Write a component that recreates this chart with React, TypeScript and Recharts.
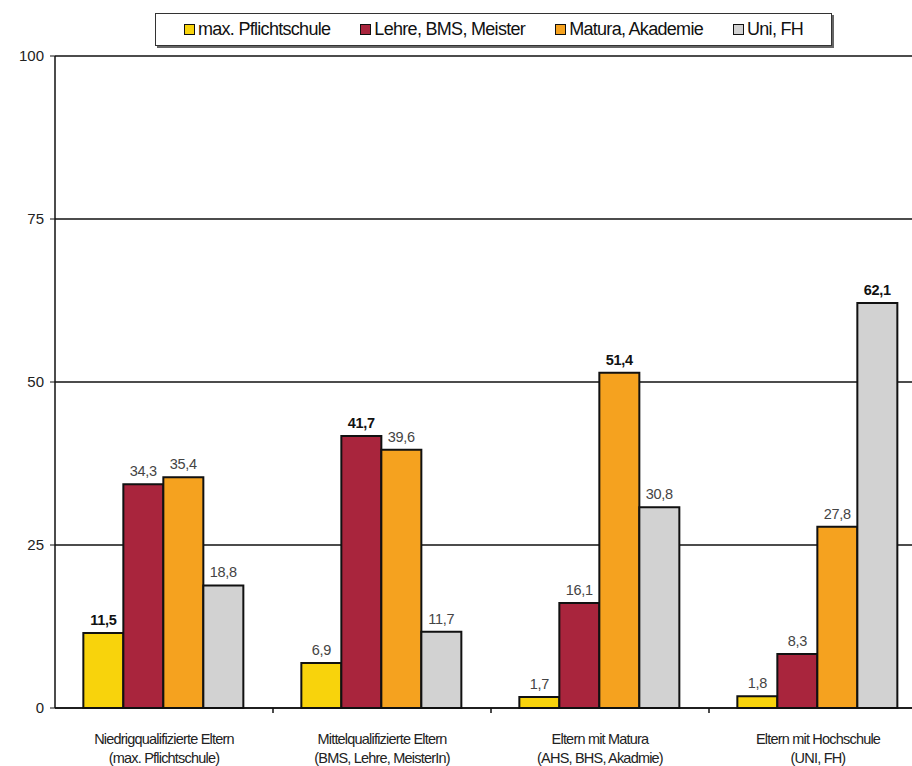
import React from 'react';
import {
  BarChart,
  Bar,
  XAxis,
  YAxis,
  CartesianGrid,
  LabelList,
} from 'recharts';

const groups = [
  ['Niedrigqualifizierte Eltern', '(max. Pflichtschule)'],
  ['Mittelqualifizierte Eltern', '(BMS, Lehre, MeisterIn)'],
  ['Eltern mit Matura', '(AHS, BHS, Akadmie)'],
  ['Eltern mit Hochschule', '(UNI, FH)'],
];

const pflichtschule = [11.5, 6.9, 1.7, 1.8];
const lehre = [34.3, 41.7, 16.1, 8.3];
const matura = [35.4, 39.6, 51.4, 27.8];
const uni = [18.8, 11.7, 30.8, 62.1];

const yTicks = [0, 25, 50, 75, 100];

const series = [
  { key: 'pflicht', name: 'max. Pflichtschule', color: '#F8D30C', values: pflichtschule },
  { key: 'lehre', name: 'Lehre, BMS, Meister', color: '#A9253D', values: lehre },
  { key: 'matura', name: 'Matura, Akademie', color: '#F5A21F', values: matura },
  { key: 'uni', name: 'Uni, FH', color: '#D2D2D2', values: uni },
];

const data = groups.map((g, i) => {
  const row: Record<string, any> = { idx: i };
  series.forEach((s) => {
    row[s.key] = s.values[i];
  });
  return row;
});

const font = '"Liberation Sans", Arial, sans-serif';
const CHART_W = 940;
const PLOT_LEFT = 55;
const PLOT_RIGHT = 13;
const BAND = (CHART_W - PLOT_LEFT - PLOT_RIGHT) / groups.length;

function ValueLabel(seriesIndex: number) {
  return (props: any) => {
    const { x, y, width, value, index } = props;
    const bold = index === seriesIndex;
    return (
      <text
        x={x + width / 2}
        y={y - 8}
        textAnchor='middle'
        fontSize={14.5}
        fontFamily={font}
        fontWeight={bold ? 'bold' : 'normal'}
        fill={bold ? '#111' : '#444'}
        letterSpacing={-0.3}
      >
        {value.toFixed(1).replace('.', ',')}
      </text>
    );
  };
}

// two-line group label plus a tick mark on the left band boundary
function GroupTick({ x, y, payload }: any) {
  const lines = groups[payload.value];
  const top = y - 8;
  return (
    <g>
      {payload.value > 0 && (
        <line x1={x - BAND / 2} x2={x - BAND / 2} y1={top} y2={top + 5} stroke='#111' strokeWidth={1.5} />
      )}
      {lines.map((line, i) => (
        <text
          key={i}
          x={x}
          y={y + 28 + i * 19}
          textAnchor='middle'
          fontSize={14.5}
          fontFamily={font}
          fill='#222'
          letterSpacing={-0.8}
        >
          {line}
        </text>
      ))}
    </g>
  );
}

// legend box drawn above the plot, outside the chart layout
function LegendBox() {
  return (
    <div
      style={{
        position: 'absolute',
        left: 155,
        top: 13,
        width: 675,
        height: 31,
        border: '1px solid #333',
        boxShadow: '2px 2px 0 #666',
        background: '#fff',
        display: 'flex',
        alignItems: 'center',
        justifyContent: 'center',
        gap: 30,
        fontFamily: font,
        fontSize: 18,
        letterSpacing: -0.7,
        color: '#111',
      }}
    >
      {series.map((s) => (
        <span key={s.key} style={{ display: 'flex', alignItems: 'center' }}>
          <span
            style={{
              width: 9,
              height: 9,
              background: s.color,
              border: '1.5px solid #111',
              marginRight: 3,
            }}
          />
          {s.name}
        </span>
      ))}
    </div>
  );
}

export default function App() {
  return (
    <div
      style={{
        position: 'absolute',
        left: 0,
        top: 0,
        width: 912,
        height: 766,
        overflow: 'hidden',
        background: '#fff',
      }}
    >
      <BarChart
        width={CHART_W}
        height={766}
        data={data}
        margin={{ top: 56, right: PLOT_RIGHT, bottom: 8, left: 0 }}
        barCategoryGap='13%'
        barGap={0}
      >
        <CartesianGrid vertical={false} stroke='#111' strokeWidth={1.5} />
        <XAxis
          dataKey='idx'
          height={50}
          tick={<GroupTick />}
          tickLine={false}
          axisLine={{ stroke: '#111', strokeWidth: 1.5 }}
          interval={0}
        />
        <YAxis
          width={PLOT_LEFT}
          domain={[0, 100]}
          ticks={yTicks}
          tickSize={5}
          tickLine={{ stroke: '#111' }}
          axisLine={{ stroke: '#111', strokeWidth: 1.5 }}
          tick={{ fontSize: 15, fontFamily: font, fill: '#222', dx: -4 }}
        />
        {series.map((s, si) => (
          <Bar
            key={s.key}
            dataKey={s.key}
            name={s.name}
            fill={s.color}
            stroke='#111'
            strokeWidth={2}
            isAnimationActive={false}
          >
            <LabelList dataKey={s.key} content={ValueLabel(si)} />
          </Bar>
        ))}
      </BarChart>
      <LegendBox />
    </div>
  );
}
